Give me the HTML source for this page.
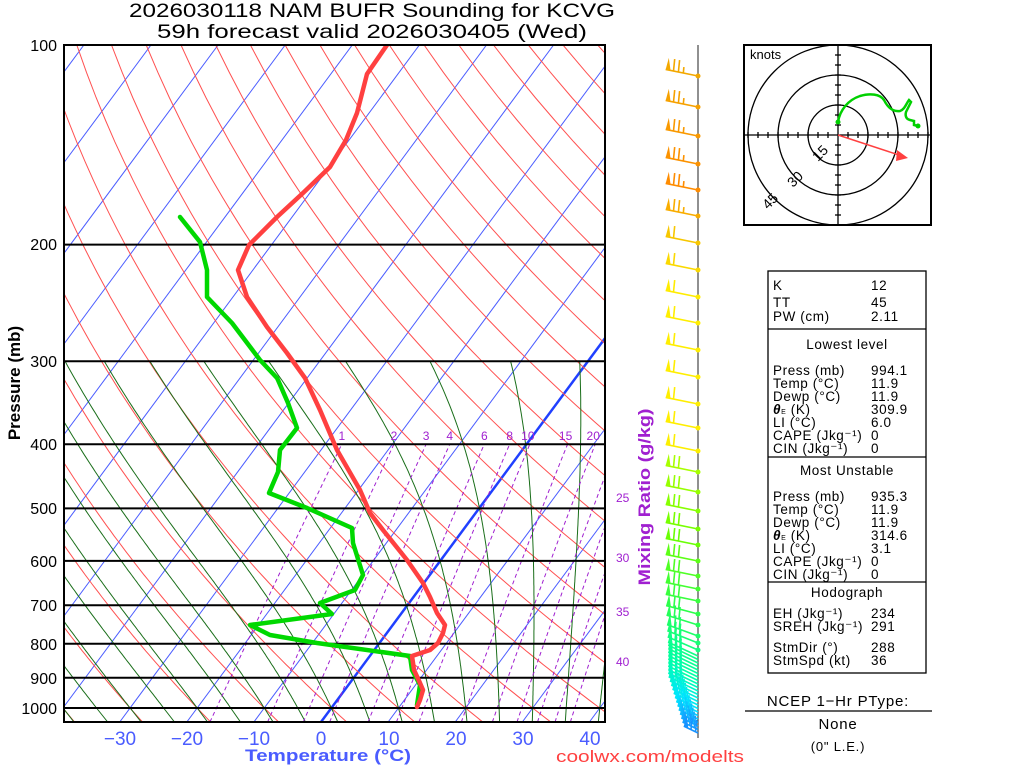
<!DOCTYPE html>
<html><head><meta charset="utf-8">
<style>
html,body{margin:0;padding:0;background:#fff;}
svg{display:block;font-family:"Liberation Sans",sans-serif;}
</style></head>
<body>
<svg id="s" width="1024" height="768" viewBox="0 0 1024 768" xmlns="http://www.w3.org/2000/svg">
<defs><clipPath id="c"><rect x="64" y="45" width="541" height="677"/></clipPath>
<clipPath id="hc"><rect x="744" y="45" width="187" height="180"/></clipPath></defs>
<g id="grid" clip-path="url(#c)"></g>
<g id="prof" clip-path="url(#c)"></g>
<g id="other"></g>
<text x="372" y="17" text-anchor="middle" font-size="19" textLength="486" lengthAdjust="spacingAndGlyphs">2026030118 NAM BUFR Sounding for KCVG</text>
<text x="372" y="38" text-anchor="middle" font-size="19" textLength="430" lengthAdjust="spacingAndGlyphs">59h forecast valid 2026030405 (Wed)</text>
<g font-size="16" text-anchor="end">
<text x="57" y="51">100</text><text x="57" y="250">200</text><text x="57" y="367">300</text><text x="57" y="450">400</text><text x="57" y="514">500</text><text x="57" y="567">600</text><text x="57" y="611">700</text><text x="57" y="650">800</text><text x="57" y="684">900</text><text x="57" y="714">1000</text>
</g>
<text transform="translate(20,383) rotate(-90)" text-anchor="middle" font-size="17" font-weight="bold">Pressure (mb)</text>
<g font-size="19" fill="#4a5cff" text-anchor="middle">
<text x="120" y="745">−30</text><text x="187" y="745">−20</text><text x="254" y="745">−10</text><text x="321" y="745">0</text><text x="389" y="745">10</text><text x="456" y="745">20</text><text x="523" y="745">30</text><text x="590" y="745">40</text>
</g>
<text x="328" y="761" text-anchor="middle" font-size="17" font-weight="bold" fill="#4a5cff" textLength="166" lengthAdjust="spacingAndGlyphs">Temperature (°C)</text>
<text x="650" y="762" text-anchor="middle" font-size="17" fill="#ff4040" textLength="188" lengthAdjust="spacingAndGlyphs">coolwx.com/modelts</text>
<text transform="translate(650,497) rotate(-90)" text-anchor="middle" font-size="17" font-weight="bold" fill="#a020d0" textLength="177" lengthAdjust="spacingAndGlyphs">Mixing Ratio (g/kg)</text>
<g font-size="12" fill="#a020d0">
<text x="616" y="502">25</text><text x="616" y="562">30</text><text x="616" y="616">35</text><text x="616" y="666">40</text>
</g>
<g>
<rect x="744" y="45" width="187" height="180" fill="none" stroke="#000" stroke-width="2"/>
<g clip-path="url(#hc)" fill="none" stroke="#000" stroke-width="1.3">
<circle cx="838" cy="135" r="30"/><circle cx="838" cy="135" r="60"/><circle cx="838" cy="135" r="90"/>
<line x1="744" y1="135" x2="931" y2="135"/><line x1="838" y1="45" x2="838" y2="225"/>
<g id="hticks"></g>
</g>
<text x="750" y="59" font-size="13">knots</text>
<text transform="translate(818,162) rotate(-45)" font-size="14">15</text>
<text transform="translate(793,188) rotate(-45)" font-size="14">30</text>
<text transform="translate(768,210) rotate(-45)" font-size="14">45</text>
<path d="M838,122 C840,110 848,100 860,96 C870,93 880,94 884,100 C888,108 893,112 900,111 C905,109 906,104 909,100 L911,102 L906,112 C905,116 906,119 910,120 L914,121 L914,125 L918,126" fill="none" stroke="#00d000" stroke-width="2.5"/>
<circle cx="838" cy="122" r="2.5" fill="#00d000"/><circle cx="918" cy="126" r="2.5" fill="#00d000"/>
<line x1="838" y1="135" x2="902" y2="156" stroke="#ff4040" stroke-width="1.5"/>
<polygon points="908,158 897,150 896,161" fill="#ff4040"/>
</g>
<g font-size="13.5" letter-spacing="0.6">
<rect x="768" y="271" width="158" height="402" fill="none" stroke="#000" stroke-width="1.3"/>
<line x1="768" y1="329" x2="926" y2="329" stroke="#000" stroke-width="1.3"/>
<line x1="768" y1="457" x2="926" y2="457" stroke="#000" stroke-width="1.3"/>
<line x1="768" y1="582" x2="926" y2="582" stroke="#000" stroke-width="1.3"/>
<text x="773" y="290">K</text><text x="871" y="290">12</text>
<text x="773" y="307">TT</text><text x="871" y="307">45</text>
<text x="773" y="321">PW (cm)</text><text x="871" y="321">2.11</text>
<text x="847" y="349" text-anchor="middle">Lowest level</text>
<text x="773" y="375">Press (mb)</text><text x="871" y="375">994.1</text>
<text x="773" y="388">Temp (°C)</text><text x="871" y="388">11.9</text>
<text x="773" y="401">Dewp (°C)</text><text x="871" y="401">11.9</text>
<text x="773" y="414"><tspan font-weight="bold" font-style="italic">θ</tspan><tspan font-size="7">E</tspan> (K)</text><text x="871" y="414">309.9</text>
<text x="773" y="427">LI (°C)</text><text x="871" y="427">6.0</text>
<text x="773" y="440">CAPE (Jkg⁻¹)</text><text x="871" y="440">0</text>
<text x="773" y="453">CIN (Jkg⁻¹)</text><text x="871" y="453">0</text>
<text x="847" y="475" text-anchor="middle">Most Unstable</text>
<text x="773" y="501">Press (mb)</text><text x="871" y="501">935.3</text>
<text x="773" y="514">Temp (°C)</text><text x="871" y="514">11.9</text>
<text x="773" y="527">Dewp (°C)</text><text x="871" y="527">11.9</text>
<text x="773" y="540"><tspan font-weight="bold" font-style="italic">θ</tspan><tspan font-size="7">E</tspan> (K)</text><text x="871" y="540">314.6</text>
<text x="773" y="553">LI (°C)</text><text x="871" y="553">3.1</text>
<text x="773" y="566">CAPE (Jkg⁻¹)</text><text x="871" y="566">0</text>
<text x="773" y="579">CIN (Jkg⁻¹)</text><text x="871" y="579">0</text>
<text x="847" y="597" text-anchor="middle">Hodograph</text>
<text x="773" y="618">EH (Jkg⁻¹)</text><text x="871" y="618">234</text>
<text x="773" y="631">SREH (Jkg⁻¹)</text><text x="871" y="631">291</text>
<text x="773" y="652">StmDir (°)</text><text x="871" y="652">288</text>
<text x="773" y="665">StmSpd (kt)</text><text x="871" y="665">36</text>
</g>
<g font-size="15" letter-spacing="0.8" text-anchor="middle">
<text x="838" y="706">NCEP 1−Hr PType:</text>
<line x1="745" y1="711" x2="932" y2="711" stroke="#000" stroke-width="1.3"/>
<text x="838" y="729">None</text>
<text x="838" y="751" font-size="13">(0" L.E.)</text>
</g>
<line x1="698" y1="45" x2="698" y2="738" stroke="#555" stroke-width="1.3"/>
<g id="barbs"></g>
</svg>
<script>
var NS="http://www.w3.org/2000/svg";
function Y(p){return 45+663*Math.log10(p/100);}
function X(T,p){return 321+6.71*T+(722-Y(p))*0.74;}
function el(par,tag,a){var e=document.createElementNS(NS,tag);for(var k in a)e.setAttribute(k,a[k]);par.appendChild(e);return e;}
var g=document.getElementById('grid');
function line(pts,stroke,w,dash){var d="M"+pts.map(function(q){return q[0].toFixed(1)+","+q[1].toFixed(1);}).join(" L");var a={d:d,fill:"none",stroke:stroke,"stroke-width":w};if(dash)a["stroke-dasharray"]=dash;el(g,'path',a);}
for(var T=-150;T<=50;T+=10){line([[X(T,1050),Y(1050)],[X(T,100),Y(100)]],T==0?"#2040ff":"#4a5cff",T==0?2.5:1);}
for(var k=-12;k<=22;k++){var th=273.15+10*k,pts=[];for(var p=1050;p>=100;p-=10){pts.push([X(th*Math.pow(p/1000,0.286)-273.15,p),Y(p)]);}line(pts,"#ff5050",1);}
function es(T){return 6.112*Math.exp(17.67*T/(T+243.5));}
function dTdp(T,p){var Tk=T+273.15,e=es(T),rs=0.622*e/(p-e),Lv=2.5e6,Rd=287,cp=1004;return (Rd*Tk+Lv*rs)/(p*(cp+Lv*Lv*rs*0.622/(Rd*Tk*Tk)));}
for(var tw=-40;tw<=45;tw+=5){var T=tw,pts=[];var Tb=tw;for(var p=1000;p<1050;p+=5){Tb+=dTdp(Tb,p)*5;}pts.push([X(Tb,1050),Y(1050)]);for(var p=1000;p>=300;p-=5){pts.push([X(T,p),Y(p)]);T-=dTdp(T,p)*5;}line(pts,"#1a6e1a",1);}
var ws=[1,2,3,4,6,8,10,15,20,25,30,35,40];
ws.forEach(function(w){var pts=[];for(var p=1050;p>=400;p-=10){var e=w*p/(622+w),l=Math.log(e/6.112);var Td=243.5*l/(17.67-l);pts.push([X(Td,p),Y(p)]);}line(pts,"#a020d0",1,"4,3");
 if(w<=20){var p=400,e=w*p/(622+w),l=Math.log(e/6.112),Td=243.5*l/(17.67-l);var t=el(document.getElementById('other'),'text',{x:X(Td,p)+(w>=10?-2:0),y:440,"font-size":12,fill:"#a020d0","text-anchor":"middle"});t.textContent=w;}});
[100,200,300,400,500,600,700,800,900,1000].forEach(function(p){line([[64,Y(p)],[605,Y(p)]],"#000",2);});
el(document.getElementById('other'),'rect',{x:64,y:45,width:541,height:677,fill:"none",stroke:"#000","stroke-width":2});
var pr=document.getElementById('prof');
var tp=[[387,45],[367,74],[357,113],[346,140],[330,167],[303,193],[277,217],[249,245],[238,270],[247,297],[267,327],[287,353],[305,378],[320,410],[337,450],[360,490],[370,513],[383,530],[407,560],[423,583],[430,597],[437,613],[445,625],[443,633],[438,643],[430,650],[412,656],[414,670],[420,683],[423,690],[420,700],[417,707]];
var dp=[[180,217],[200,242],[207,270],[207,297],[232,323],[260,360],[277,378],[278,380],[288,403],[297,428],[280,450],[278,472],[269,493],[307,508],[352,528],[353,543],[363,575],[355,590],[320,603],[332,614],[250,625],[270,635],[317,643],[410,656],[412,670],[420,685],[417,705]];
function pl(pts,c){el(pr,'polyline',{points:pts.map(function(q){return q.join(",");}).join(" "),fill:"none",stroke:c,"stroke-width":4.5,"stroke-linejoin":"round","stroke-linecap":"round"});}
pl(dp,"#00d800");pl(tp,"#ff4040");
var ht=document.getElementById('hticks');
for(var i=-9;i<=9;i++){if(i==0)continue;el(ht,'line',{x1:838+i*10,y1:132,x2:838+i*10,y2:138});el(ht,'line',{x1:835,y1:135+i*10,x2:841,y2:135+i*10});}
var bg=document.getElementById('barbs');
function col(y){var stops=[[45,[240,176,0]],[190,[255,140,0]],[230,[245,190,0]],[300,[255,238,0]],[450,[255,238,0]],[470,[170,255,0]],[540,[110,255,0]],[620,[40,255,80]],[680,[0,255,170]],[710,[0,230,255]],[740,[30,120,255]]];for(var i=0;i<stops.length-1;i++){if(y<=stops[i+1][0]){var t=(y-stops[i][0])/(stops[i+1][0]-stops[i][0]);var a=stops[i][1],b=stops[i+1][1];return "rgb("+[0,1,2].map(function(j){return Math.round(a[j]+(b[j]-a[j])*t);}).join(",")+")";}}return "rgb(30,120,255)";}
var lev=[76,107,136,164,190,216,243,270,297,323,350,377,404,428,451,472,492,511,529,545,561,576,589,601,614,625,636,643,650];
for(var y=656;y<=735;y+=3.5)lev.push(y);
lev.forEach(function(y,i){var c=col(y);var a=(y<600)?0.2:0.2+Math.min(1,(y-600)/60)*0.25;var L=33-Math.max(0,y-690)*0.4;var ex=698-L*Math.cos(a),ey=y-L*Math.sin(a);
 el(bg,'line',{x1:698,y1:y,x2:ex,y2:ey,stroke:c,"stroke-width":1.6});
 var ux=Math.cos(a),uy=Math.sin(a);
 var nx=0.1,ny=-1;var fl=12;
 var nb=(y<240)?2:(y<460?1:2);
 el(bg,'polygon',{points:[ex,ey,ex+5*ux,ey+5*uy,ex+2*ux+nx*fl,ey+2*uy+ny*fl].join(","),fill:c});
 for(var b=0;b<nb;b++){var d=8+b*5;var bx=ex+d*ux,by=ey+d*uy;el(bg,'line',{x1:bx,y1:by,x2:bx+nx*fl,y2:by+ny*fl,stroke:c,"stroke-width":1.6});}
 if(y<240){var bx=ex+18*ux,by=ey+18*uy;el(bg,'line',{x1:bx,y1:by,x2:bx+nx*6,y2:by+ny*6,stroke:c,"stroke-width":1.6});}
 if(y<655)el(bg,'circle',{cx:698,cy:y,r:2.5,fill:c});
});
</script>
</body></html>
